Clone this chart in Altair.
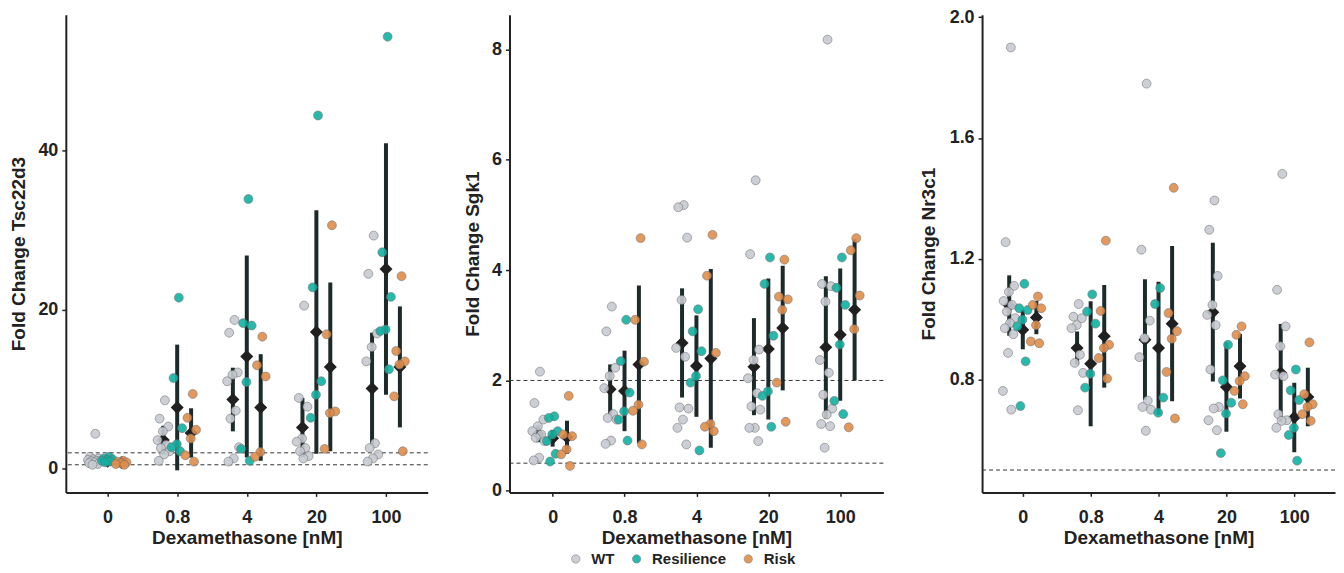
import json
import altair as alt
import pandas as pd

DOSE_LABELS = ["0", "0.8", "4", "20", "100"]
GENOTYPES = ["WT", "Resilience", "Risk"]
GENO_COLORS = ["#c7cbd2", "#10b2a2", "#e08d4b"]

# ---------------- Tsc22d3 (per genotype: list per dose) ----------------
TSC_WT = [
    [4.4, 1.5, 1.3, 1.2, 1.1, 1.0, 0.95, 0.9, 0.8, 0.7, 0.6, 0.5],
    [8.6, 6.3, 5.3, 4.7, 3.6, 3.0, 2.6, 2.2, 1.8, 1.0],
    [18.7, 17.1, 12.1, 11.8, 11.0, 7.3, 6.3, 2.7, 1.3, 0.9],
    [20.5, 8.9, 7.8, 3.8, 3.4, 2.6, 2.2, 1.6, 1.3],
    [29.3, 24.5, 17.0, 15.3, 13.5, 3.2, 2.6, 1.8, 1.3, 0.9],
]
TSC_RES = [
    [1.5, 1.3, 1.2, 1.1, 1.0, 0.9, 0.8],
    [21.5, 11.4, 5.1, 3.1, 2.7, 2.2],
    [33.9, 18.3, 18.0, 10.9, 2.5, 1.0],
    [44.4, 22.8, 11.0, 9.3, 6.4],
    [54.3, 27.2, 21.6, 17.5, 17.3, 12.5],
]
TSC_RISK = [
    [1.0, 0.9, 0.8, 0.7, 0.6, 0.5],
    [9.4, 6.4, 4.9, 3.8, 1.7, 0.9],
    [16.6, 13.0, 11.6, 2.1, 1.5],
    [30.6, 16.9, 7.2, 7.0, 2.5],
    [24.2, 14.8, 13.5, 13.1, 9.1, 2.2],
]
TSC_MEAN = [[1.0, 3.6, 8.7, 5.2, 10.1], [0.95, 7.7, 14.1, 17.2, 25.1], [0.8, 4.5, 7.7, 12.8, 12.8]]
TSC_SD = [[0.4, 1.8, 4.0, 3.7, 7.0], [0.3, 7.9, 12.7, 15.3, 15.8], [0.2, 3.1, 6.7, 10.6, 7.6]]
TSC_REF = [0.5, 2.0]

# ---------------- Sgk1 ----------------
SGK_WT = [
    [2.16, 1.59, 1.29, 1.17, 1.08, 1.02, 0.96, 0.90, 0.60, 0.55],
    [3.34, 2.89, 2.23, 2.08, 1.86, 1.39, 1.32, 1.29, 0.91, 0.85],
    [5.18, 5.14, 4.59, 3.46, 2.59, 2.43, 1.51, 1.49, 1.29, 1.14, 0.84],
    [5.63, 4.29, 2.56, 2.37, 2.04, 1.77, 1.53, 1.47, 1.14, 1.14, 0.90],
    [8.18, 3.75, 3.71, 3.43, 2.37, 2.14, 1.74, 1.49, 1.38, 1.21, 1.17, 0.78],
]
SGK_RES = [
    [1.35, 1.32, 1.08, 1.02, 0.90, 0.67, 0.53],
    [3.10, 2.35, 1.78, 1.44, 1.29, 0.91],
    [3.29, 2.89, 2.53, 2.08, 1.96, 0.73],
    [4.23, 3.75, 2.81, 1.80, 1.72, 1.16],
    [4.23, 3.68, 3.37, 2.65, 1.63, 1.39],
]
SGK_RISK = [
    [1.72, 1.02, 0.99, 0.75, 0.66, 0.45],
    [4.58, 3.10, 2.34, 1.56, 1.45, 0.84],
    [4.64, 3.90, 2.50, 1.21, 1.16, 1.08],
    [4.19, 3.52, 3.47, 3.28, 1.96, 1.25],
    [4.58, 4.36, 3.54, 2.93, 1.15],
]
SGK_MEAN = [[1.03, 1.84, 2.68, 2.25, 2.60], [0.95, 1.81, 2.26, 2.57, 2.83], [0.97, 2.29, 2.40, 2.95, 3.28]]
SGK_SD = [[0.15, 0.45, 0.99, 0.88, 1.29], [0.15, 0.73, 0.92, 1.28, 1.20], [0.30, 1.43, 1.62, 1.13, 1.28]]
SGK_REF = [0.5, 2.0]

# ---------------- Nr3c1 ----------------
NR3_WT = [
    [1.90, 1.255, 1.11, 1.09, 1.06, 1.047, 1.025, 1.003, 0.987, 0.97, 0.95, 0.888, 0.762, 0.70],
    [1.05, 1.008, 1.003, 0.98, 0.97, 0.882, 0.855, 0.822, 0.698],
    [1.78, 1.23, 0.995, 0.937, 0.874, 0.73, 0.709, 0.70, 0.63],
    [1.393, 1.296, 1.143, 1.047, 1.014, 0.98, 0.833, 0.709, 0.704, 0.665, 0.632],
    [1.481, 1.097, 0.976, 0.91, 0.816, 0.811, 0.685, 0.665, 0.663, 0.64],
]
NR3_RES = [
    [1.117, 1.036, 1.03, 0.998, 0.976, 0.86, 0.712],
    [1.082, 1.025, 0.985, 0.819, 0.773],
    [1.103, 1.05, 0.74, 0.69],
    [0.915, 0.797, 0.723, 0.687, 0.556],
    [0.833, 0.764, 0.732, 0.64, 0.616, 0.531],
]
NR3_RISK = [
    [1.075, 1.047, 1.036, 0.98, 0.926, 0.92],
    [1.26, 1.027, 0.915, 0.904, 0.871, 0.803],
    [1.435, 1.02, 0.96, 0.935, 0.825, 0.671],
    [0.976, 0.948, 0.811, 0.795, 0.762, 0.718],
    [0.923, 0.751, 0.718, 0.709, 0.685, 0.663],
]
NR3_MEAN = [[1.045, 0.904, 0.932, 1.023, 0.822], [0.965, 0.852, 0.904, 0.775, 0.674], [1.005, 0.943, 0.985, 0.844, 0.742]]
NR3_SD = [[0.10, 0.055, 0.20, 0.23, 0.162], [0.065, 0.207, 0.22, 0.148, 0.115], [0.055, 0.17, 0.257, 0.107, 0.097]]
NR3_REF = [0.5]


def point_table(series):
    rows = []
    for gi, per_dose in enumerate(series):
        for di, vals in enumerate(per_dose):
            for k, v in enumerate(vals):
                rows.append({"genotype": GENOTYPES[gi], "g": gi, "dose": di, "k": k, "value": v})
    return pd.DataFrame(rows)


def summary_table(mean, sd):
    rows = []
    for gi in range(3):
        for di in range(5):
            rows.append({"genotype": GENOTYPES[gi], "g": gi, "dose": di,
                         "mean": mean[gi][di], "sd": sd[gi][di]})
    return pd.DataFrame(rows)


LABEL_EXPR = json.dumps(DOSE_LABELS) + "[datum.value]"


def panel(series, mean, sd, refs, ytitle, ydomain, yticks, yformat, width, tpad):
    xscale = alt.Scale(domain=[-0.6, 4.6], nice=False, zero=False)
    xaxis = alt.Axis(values=[0, 1, 2, 3, 4], labelExpr=LABEL_EXPR, title="Dexamethasone [nM]")
    yscale = alt.Scale(domain=ydomain, nice=False, zero=False)
    yaxis = alt.Axis(values=yticks, format=yformat, title=ytitle, titlePadding=tpad)

    ref = alt.Chart(pd.DataFrame({"ref": refs})).mark_rule(
        strokeDash=[4, 3], color="#333333", strokeWidth=1
    ).encode(y=alt.Y("ref:Q", scale=yscale, axis=yaxis))

    summ = alt.Chart(summary_table(mean, sd)).transform_calculate(
        xpos="datum.dose + (datum.g - 1) * 0.2",
        lo="datum.mean - datum.sd",
        hi="datum.mean + datum.sd",
    )
    bars = summ.mark_rule(strokeWidth=4, color="#1d2a2a").encode(
        x=alt.X("xpos:Q", scale=xscale, axis=xaxis),
        y=alt.Y("lo:Q", scale=yscale, axis=yaxis),
        y2="hi:Q",
    )
    diamonds = summ.mark_point(shape="diamond", filled=True, size=170, color="#202020", opacity=1).encode(
        x=alt.X("xpos:Q", scale=xscale, axis=xaxis),
        y=alt.Y("mean:Q", scale=yscale, axis=yaxis),
    )
    pts = alt.Chart(point_table(series)).transform_calculate(
        xpos="datum.dose + (datum.g - 1) * 0.2 + ((((datum.k + 1) * 0.618034) % 1) - 0.5) * 0.2"
    ).mark_circle(size=80, stroke="#6a6a6a", strokeWidth=0.6, opacity=0.9).encode(
        x=alt.X("xpos:Q", scale=xscale, axis=xaxis),
        y=alt.Y("value:Q", scale=yscale, axis=yaxis),
        color=alt.Color(
            "genotype:N",
            scale=alt.Scale(domain=GENOTYPES, range=GENO_COLORS),
            legend=alt.Legend(
                title=None, orient="none", direction="horizontal",
                legendX=504, legendY=538,
            ),
        ),
    )
    return alt.layer(ref, bars, diamonds, pts).properties(width=width, height=479)


p1 = panel([TSC_WT, TSC_RES, TSC_RISK], TSC_MEAN, TSC_SD, TSC_REF,
           "Fold Change Tsc22d3", [-2.97, 57.05], [0, 20, 40], "d", 363, 9)
p2 = panel([SGK_WT, SGK_RES, SGK_RISK], SGK_MEAN, SGK_SD, SGK_REF,
           "Fold Change Sgk1", [-0.03, 8.63], [0, 2, 4, 6, 8], "d", 375, 9)
p3 = panel([NR3_WT, NR3_RES, NR3_RISK], NR3_MEAN, NR3_SD, NR3_REF,
           "Fold Change Nr3c1", [0.426, 2.008], [0.8, 1.2, 1.6, 2.0], ".1f", 354, 11)

chart = alt.hconcat(p1, p2, p3, spacing=34).resolve_scale(color="shared").properties(
    padding={"left": 1, "top": -1, "right": 0, "bottom": 0}
).configure_view(stroke=None).configure_axis(
    grid=False,
    domainColor="#222222",
    domainWidth=2,
    tickColor="#222222",
    tickWidth=1.5,
    tickSize=4,
    labelFont="Liberation Sans",
    labelFontSize=18,
    labelFontWeight="bold",
    labelColor="#222222",
    titleFont="Liberation Sans",
    titleFontSize=19,
    titleFontWeight="bold",
    titleColor="#222222",
).configure_axisX(
    labelPadding=12,
    titlePadding=2,
).configure_axisY(
    labelPadding=4,
).configure_legend(
    labelFont="Liberation Sans",
    labelFontSize=15,
    labelFontWeight="bold",
    labelColor="#222222",
    symbolSize=70,
    symbolStrokeColor="#777777",
    symbolStrokeWidth=0.6,
    labelOffset=8,
    columnPadding=14,
)

chart.save("out.html", embed_options={"renderer": "svg", "actions": False})
